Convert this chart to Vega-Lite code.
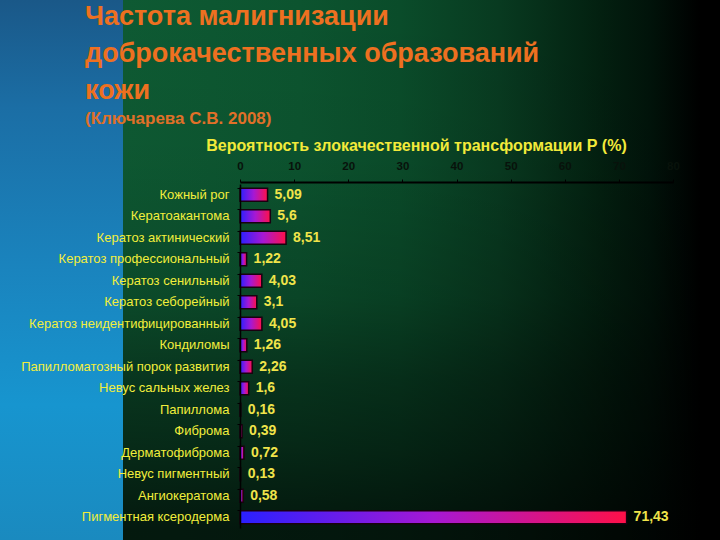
{
  "$schema": "https://vega.github.io/schema/vega-lite/v6.json",
  "autosize": {"type": "pad"},
  "padding": 0,
  "spacing": 0,
  "bounds": "flush",
  "background": "#000000",
  "config": {
    "font": "Liberation Sans",
    "view": {"stroke": null},
    "locale": {"number": {"decimal": ",", "thousands": " ", "grouping": [3], "currency": ["", ""]}}
  },
  "title": {
    "text": ["Частота малигнизации", "доброкачественных образований", "кожи"],
    "subtitle": "(Ключарева С.В. 2008)",
    "anchor": "start",
    "frame": "group",
    "dx": 85,
    "offset": -128,
    "font": "Liberation Sans",
    "fontSize": 27,
    "fontWeight": "bold",
    "color": "#ee7020",
    "lineHeight": 37,
    "subtitleFont": "Liberation Sans",
    "subtitleFontSize": 17,
    "subtitleFontWeight": "bold",
    "subtitleColor": "#e07028",
    "subtitlePadding": 6,
    "zindex": 1
  },
  "data": {"values": [
    {"name": "Кожный рог", "value": 5.09},
    {"name": "Кератоакантома", "value": 5.6},
    {"name": "Кератоз актинический", "value": 8.51},
    {"name": "Кератоз профессиональный", "value": 1.22},
    {"name": "Кератоз сенильный", "value": 4.03},
    {"name": "Кератоз себорейный", "value": 3.1},
    {"name": "Кератоз неидентифицированный", "value": 4.05},
    {"name": "Кондиломы", "value": 1.26},
    {"name": "Папилломатозный порок развития", "value": 2.26},
    {"name": "Невус сальных желез", "value": 1.6},
    {"name": "Папиллома", "value": 0.16},
    {"name": "Фиброма", "value": 0.39},
    {"name": "Дерматофиброма", "value": 0.72},
    {"name": "Невус пигментный", "value": 0.13},
    {"name": "Ангиокератома", "value": 0.58},
    {"name": "Пигментная ксеродерма", "value": 71.43}
  ]},
  "hconcat": [
    {
      "width": 123,
      "height": 540,
      "data": {"values": [{}]},
      "mark": {"type": "rect", "fill": {
        "gradient": "linear", "x1": 0, "y1": 0, "x2": 0, "y2": 1,
        "stops": [
          {"offset": 0, "color": "#1a5888"},
          {"offset": 0.2, "color": "#1b6ea5"},
          {"offset": 0.5, "color": "#1a84be"},
          {"offset": 0.75, "color": "#1795cf"},
          {"offset": 1, "color": "#1a8abf"}
        ]}},
      "encoding": {}
    },
    {
      "width": 597,
      "height": 540,
      "layer": [
        {
          "data": {"values": [{}]},
          "mark": {"type": "rect", "fill": {
            "gradient": "linear", "x1": 0, "y1": 0, "x2": 1, "y2": 0,
            "stops": [
              {"offset": 0, "color": "#0e5a33"},
              {"offset": 0.296, "color": "#0c542f"},
              {"offset": 0.464, "color": "#0a4c2a"},
              {"offset": 0.631, "color": "#083a20"},
              {"offset": 0.799, "color": "#032010"},
              {"offset": 0.883, "color": "#01130a"},
              {"offset": 0.966, "color": "#000000"},
              {"offset": 1, "color": "#000000"}
            ]}},
          "encoding": {}
        },
        {
          "data": {"values": [{}]},
          "mark": {"type": "rect", "fill": {
            "gradient": "linear", "x1": 0, "y1": 0, "x2": 0, "y2": 1,
            "stops": [
              {"offset": 0, "color": "rgba(0,0,0,0)"},
              {"offset": 0.3, "color": "rgba(0,0,0,0.03)"},
              {"offset": 0.55, "color": "rgba(0,0,0,0.18)"},
              {"offset": 0.7, "color": "rgba(0,0,0,0.4)"},
              {"offset": 0.83, "color": "rgba(0,0,0,0.53)"},
              {"offset": 0.98, "color": "rgba(0,0,0,0.72)"},
              {"offset": 1, "color": "rgba(0,0,0,0.72)"}
            ]}},
          "encoding": {}
        },
        {
          "encoding": {
            "y": {
              "field": "name", "type": "nominal", "sort": null,
              "scale": {"range": [184, 528], "paddingInner": 0.4, "paddingOuter": 0.2},
              "axis": {
                "orient": "left", "offset": -117, "title": null,
                "labelColor": "#f2ee3c", "labelFontSize": 13, "labelPadding": 8, "labelLimit": 300,
                "tickSize": 3, "tickColor": "#000000", "bandPosition": 0,
                "domainColor": "#000000", "domainWidth": 1.5, "zindex": 1
              }
            },
            "x": {
              "field": "value", "type": "quantitative",
              "scale": {"domain": [0, 80], "range": [117, 550]},
              "axis": {
                "orient": "top", "offset": -182,
                "values": [0, 10, 20, 30, 40, 50, 60, 70, 80],
                "title": "Вероятность злокачественной трансформации Р (%)",
                "titleX": 293, "titleY": -37, "titleAlign": "center", "titleBaseline": "middle",
                "titleColor": "#f2ea3a", "titleFontSize": 16, "titleFontWeight": "bold",
                "labelColor": "#08120b", "labelFontSize": 11.5, "labelFontWeight": "bold",
                "labelPadding": 8, "labelFlush": false,
                "tickSize": 3, "tickColor": "#000000",
                "domainColor": "#000000", "domainWidth": 2,
                "grid": false, "zindex": 1
              }
            }
          },
          "layer": [
            {
              "mark": {
                "type": "bar",
                "fill": {
                  "gradient": "linear", "x1": 0, "y1": 0, "x2": 1, "y2": 0,
                  "stops": [
                    {"offset": 0, "color": "#2a20ff"},
                    {"offset": 0.5, "color": "#a618d4"},
                    {"offset": 1, "color": "#ff1048"}
                  ]
                },
                "stroke": "#1a0010",
                "strokeWidth": 1.5
              }
            },
            {
              "mark": {
                "type": "text", "align": "left", "baseline": "middle", "dx": 7,
                "fontSize": 14, "fontWeight": "bold", "color": "#f0e44a"
              },
              "encoding": {
                "text": {"field": "value", "type": "quantitative", "format": ".2~f"}
              }
            }
          ]
        }
      ]
    }
  ]
}
